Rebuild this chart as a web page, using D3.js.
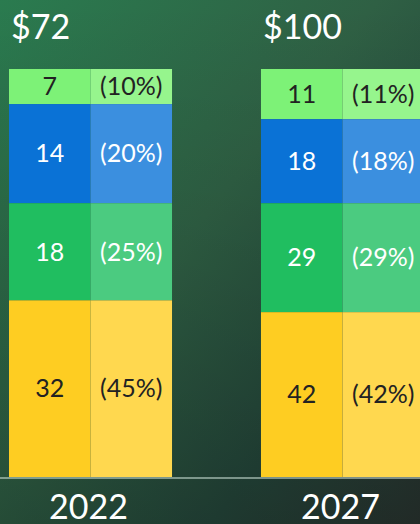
<!DOCTYPE html>
<html>
<head>
<meta charset="utf-8">
<script src="https://cdn.jsdelivr.net/npm/d3@7"></script>
<style>
  html, body { margin: 0; padding: 0; background: #24453a; }
  svg { display: block; }
</style>
</head>
<body>
<div id="chart"></div>
<script>
// chart values
var years = ["2022", "2027"];
var totals = ["$72", "$100"];
var values2022 = [7, 14, 18, 32];
var values2027 = [11, 18, 29, 42];
var pct2022 = ["(10%)", "(20%)", "(25%)", "(45%)"];
var pct2027 = ["(11%)", "(18%)", "(29%)", "(42%)"];
// segment sizes as drawn (share of bar height, %)
var share2022 = [8.6, 24.3, 23.8, 43.3];
var share2027 = [12.3, 20.6, 26.7, 40.4];

var darkColors = ["#7df277", "#0a72d6", "#20be60", "#fecd22"];
var lightColors = ["#96f58d", "#3b8fdf", "#4bcb80", "#ffd84f"];
var textColors = ["#222", "#fff", "#fff", "#222"];

var width = 420,
    height = 524;

var svg = d3.select("#chart")
    .append("svg")
    .attr("width", width)
    .attr("height", height);

// background
var defs = svg.append("defs");
var grad = defs.append("linearGradient")
    .attr("id", "bg")
    .attr("x1", "0%").attr("y1", "0%")
    .attr("x2", "100%").attr("y2", "100%");
grad.append("stop").attr("offset", "0%").attr("stop-color", "#2a7b4f");
grad.append("stop").attr("offset", "45%").attr("stop-color", "#2f6044");
grad.append("stop").attr("offset", "75%").attr("stop-color", "#24463a");
grad.append("stop").attr("offset", "100%").attr("stop-color", "#29332f");

var shade = defs.append("linearGradient")
    .attr("id", "shade")
    .attr("x1", "0%").attr("y1", "0%")
    .attr("x2", "0%").attr("y2", "100%");
shade.append("stop").attr("offset", "0%").attr("stop-color", "#000").attr("stop-opacity", 0);
shade.append("stop").attr("offset", "100%").attr("stop-color", "#000").attr("stop-opacity", 0.18);

svg.append("rect").attr("width", width).attr("height", height).attr("fill", "url(#bg)");
svg.append("rect").attr("width", width).attr("height", height).attr("fill", "url(#shade)");

var x = d3.scaleBand()
    .domain(years)
    .range([9, 424])
    .paddingInner(0.353)
    .paddingOuter(0);

var y = d3.scaleLinear()
    .domain([0, 100])
    .range([477, 69]);

var bars = [
    {year: years[0], total: totals[0], values: values2022, pct: pct2022, share: share2022},
    {year: years[1], total: totals[1], values: values2027, pct: pct2027, share: share2027}
];

var font = "Lato, 'Open Sans', sans-serif";

bars.forEach(function (b) {
    var x0 = x(b.year),
        half = x.bandwidth() / 2;

    // stack the segments from the top down
    var cum = 100;
    var segs = b.share.map(function (s, i) {
        var seg = {i: i, top: cum, bottom: cum - s};
        cum -= s;
        return seg;
    });

    var g = svg.append("g");

    g.selectAll("rect.val")
        .data(segs)
        .enter()
        .append("rect")
        .attr("x", x0)
        .attr("y", function (d) { return y(d.top); })
        .attr("width", half)
        .attr("height", function (d) { return y(d.bottom) - y(d.top); })
        .attr("fill", function (d) { return darkColors[d.i]; });

    g.selectAll("rect.pct")
        .data(segs)
        .enter()
        .append("rect")
        .attr("x", x0 + half)
        .attr("y", function (d) { return y(d.top); })
        .attr("width", x.bandwidth() - half)
        .attr("height", function (d) { return y(d.bottom) - y(d.top); })
        .attr("fill", function (d) { return lightColors[d.i]; });

    g.selectAll("text.val")
        .data(segs)
        .enter()
        .append("text")
        .attr("x", x0 + half / 2)
        .attr("y", function (d) { return (y(d.top) + y(d.bottom)) / 2; })
        .attr("dy", "0.35em")
        .attr("text-anchor", "middle")
        .style("font-family", font)
        .style("font-size", "25px")
        .attr("fill", function (d) { return textColors[d.i]; })
        .text(function (d) { return b.values[d.i]; });

    g.selectAll("text.pct")
        .data(segs)
        .enter()
        .append("text")
        .attr("x", x0 + half * 1.5)
        .attr("y", function (d) { return (y(d.top) + y(d.bottom)) / 2; })
        .attr("dy", "0.35em")
        .attr("text-anchor", "middle")
        .style("font-family", font)
        .style("font-size", "25px")
        .attr("fill", function (d) { return textColors[d.i]; })
        .text(function (d) { return b.pct[d.i]; });

    // total above the bar
    svg.append("text")
        .attr("x", x0 + 2)
        .attr("y", 39)
        .style("font-family", font)
        .style("font-size", "34px")
        .attr("fill", "#fff")
        .text(b.total);

    // year under the baseline
    svg.append("text")
        .attr("x", x0 + x.bandwidth() / 2 - 2)
        .attr("y", 519)
        .attr("text-anchor", "middle")
        .style("font-family", font)
        .style("font-size", "34px")
        .attr("fill", "#fff")
        .text(b.year);
});

// baseline
svg.append("line")
    .attr("x1", 0)
    .attr("x2", width)
    .attr("y1", y(0) + 1)
    .attr("y2", y(0) + 1)
    .attr("stroke", "#dcefe6")
    .attr("stroke-width", 1.2);
</script>
</body>
</html>
